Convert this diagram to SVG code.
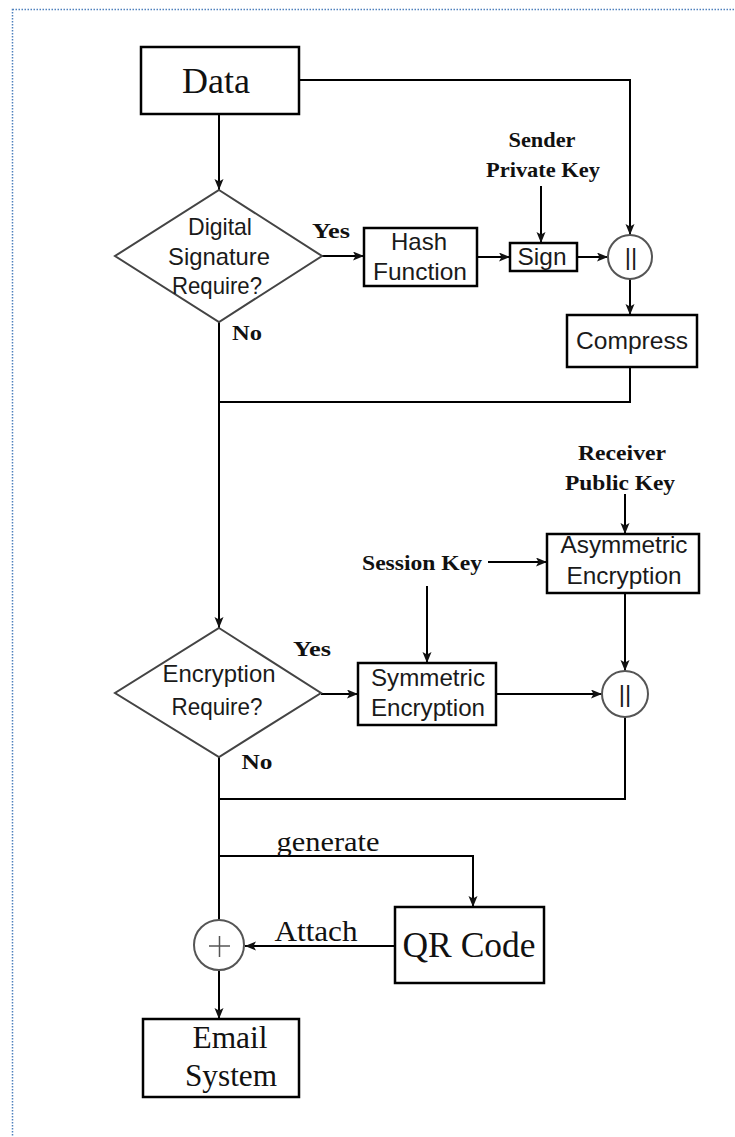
<svg xmlns="http://www.w3.org/2000/svg" width="735" height="1137" viewBox="0 0 735 1137">
<defs>
<marker id="arr" markerUnits="userSpaceOnUse" markerWidth="12" markerHeight="10" refX="11" refY="4.5" orient="auto">
<path d="M0,0 L11,4.5 L0,9 L2.5,4.5 z" fill="#111"/>
</marker>
</defs>
<style>
.box{fill:#fff;stroke:#000;stroke-width:2.5}
.dia{fill:#fff;stroke:#444;stroke-width:2}
.cir{fill:#fff;stroke:#555;stroke-width:2}
.ln{fill:none;stroke:#000;stroke-width:2}
.ar{marker-end:url(#arr)}
.sans{font-family:"Liberation Sans",Arial,sans-serif;font-size:24px;fill:#1a1a1a;text-anchor:middle}
.serif{font-family:"Liberation Serif","Times New Roman",serif;fill:#111;text-anchor:middle}
.lbl{font-family:"Liberation Serif","Times New Roman",serif;font-size:22px;font-weight:bold;fill:#111;text-anchor:middle}
</style>
<rect x="12.5" y="9.5" width="800" height="1200" fill="none" stroke="#4f81bd" stroke-width="1.5" stroke-dasharray="1.5 1.5"/>
<g id="connectors">
<path class="ln ar" d="M219,114 V190"/>
<path class="ln ar" d="M297,80 H630 V235"/>
<path class="ln ar" d="M322,256 H364"/>
<path class="ln ar" d="M477,257 H510"/>
<path class="ln ar" d="M541,186 V243"/>
<path class="ln ar" d="M577,257 H608"/>
<path class="ln ar" d="M630,279 V315"/>
<path class="ln" d="M630,367 V402 H219"/>
<path class="ln ar" d="M219,322 V628"/>
<path class="ln ar" d="M625,494 V534"/>
<path class="ln ar" d="M488,562 H547"/>
<path class="ln ar" d="M427,586 V663"/>
<path class="ln ar" d="M625,593 V671"/>
<path class="ln ar" d="M321,694 H358"/>
<path class="ln ar" d="M496,694 H602"/>
<path class="ln" d="M625,717 V799 H219"/>
<path class="ln" d="M219,757 V920"/>
<path class="ln ar" d="M219,856 H473 V907"/>
<path class="ln ar" d="M395,946 H245"/>
<path class="ln ar" d="M219,970 V1019"/>
</g>
<g id="data">
<rect class="box" x="141" y="47" width="158" height="67"/>
<text class="serif" x="216" y="93" font-size="36">Data</text>
</g>
<g id="digital-signature">
<polygon class="dia" points="219,190 322,256 219,322 115,256"/>
<text class="sans" x="220" y="235" textLength="64" lengthAdjust="spacingAndGlyphs">Digital</text>
<text class="sans" x="219" y="265" textLength="102" lengthAdjust="spacingAndGlyphs">Signature</text>
<text class="sans" x="217" y="294" textLength="90" lengthAdjust="spacingAndGlyphs">Require?</text>
</g>
<text class="lbl" x="331" y="238" textLength="38" lengthAdjust="spacingAndGlyphs">Yes</text>
<text class="lbl" x="247" y="340" textLength="30" lengthAdjust="spacingAndGlyphs">No</text>
<g id="hash">
<rect class="box" x="364" y="228" width="113" height="58"/>
<text class="sans" x="419" y="250">Hash</text>
<text class="sans" x="420" y="280" textLength="94" lengthAdjust="spacingAndGlyphs">Function</text>
</g>
<g id="sender-key">
<text class="lbl" x="542" y="147" textLength="67" lengthAdjust="spacingAndGlyphs">Sender</text>
<text class="lbl" x="543" y="177" textLength="114" lengthAdjust="spacingAndGlyphs">Private Key</text>
</g>
<g id="sign">
<rect class="box" x="510" y="243" width="67" height="28"/>
<text class="sans" x="542" y="265" textLength="49" lengthAdjust="spacingAndGlyphs">Sign</text>
</g>
<g id="concat1">
<circle class="cir" cx="630" cy="257" r="22"/>
<text class="sans" x="631" y="265" font-size="22">||</text>
</g>
<g id="compress">
<rect class="box" x="567" y="315" width="130" height="52"/>
<text class="sans" x="632" y="349" textLength="112" lengthAdjust="spacingAndGlyphs">Compress</text>
</g>
<g id="receiver-key">
<text class="lbl" x="622" y="460" textLength="88" lengthAdjust="spacingAndGlyphs">Receiver</text>
<text class="lbl" x="620" y="490" textLength="110" lengthAdjust="spacingAndGlyphs">Public Key</text>
</g>
<g id="asymmetric">
<rect class="box" x="547" y="534" width="152" height="59"/>
<text class="sans" x="624" y="553" textLength="127" lengthAdjust="spacingAndGlyphs">Asymmetric</text>
<text class="sans" x="624" y="584" textLength="115" lengthAdjust="spacingAndGlyphs">Encryption</text>
</g>
<g id="session-key">
<text class="lbl" x="422" y="570" textLength="120" lengthAdjust="spacingAndGlyphs">Session Key</text>
</g>
<g id="encryption">
<polygon class="dia" points="219,628 321,693 219,757 115,693"/>
<text class="sans" x="219" y="682" textLength="113" lengthAdjust="spacingAndGlyphs">Encryption</text>
<text class="sans" x="217" y="715" textLength="91" lengthAdjust="spacingAndGlyphs">Require?</text>
</g>
<text class="lbl" x="312" y="656" textLength="38" lengthAdjust="spacingAndGlyphs">Yes</text>
<text class="lbl" x="257" y="769" textLength="31" lengthAdjust="spacingAndGlyphs">No</text>
<g id="symmetric">
<rect class="box" x="358" y="663" width="138" height="62"/>
<text class="sans" x="428" y="686" textLength="114" lengthAdjust="spacingAndGlyphs">Symmetric</text>
<text class="sans" x="428" y="716" textLength="114" lengthAdjust="spacingAndGlyphs">Encryption</text>
</g>
<g id="concat2">
<circle class="cir" cx="625" cy="694" r="23"/>
<text class="sans" x="625" y="702" font-size="22">||</text>
</g>
<text class="serif" x="328" y="851" font-size="28" textLength="103" lengthAdjust="spacingAndGlyphs">generate</text>
<g id="qr-code">
<rect class="box" x="395" y="907" width="149" height="76"/>
<text class="serif" x="469" y="957" font-size="36" textLength="133" lengthAdjust="spacingAndGlyphs">QR Code</text>
</g>
<text class="serif" x="316" y="941" font-size="30" textLength="83" lengthAdjust="spacingAndGlyphs">Attach</text>
<g id="attach">
<circle class="cir" cx="219" cy="945" r="25"/>
<path d="M209,946 H230 M219.5,936 V957" stroke="#555" stroke-width="1.5" fill="none"/>
</g>
<g id="email">
<rect class="box" x="143" y="1019" width="156" height="78"/>
<text class="serif" x="230" y="1048" font-size="32" textLength="75" lengthAdjust="spacingAndGlyphs">Email</text>
<text class="serif" x="231" y="1086" font-size="32" textLength="92" lengthAdjust="spacingAndGlyphs">System</text>
</g>
</svg>
